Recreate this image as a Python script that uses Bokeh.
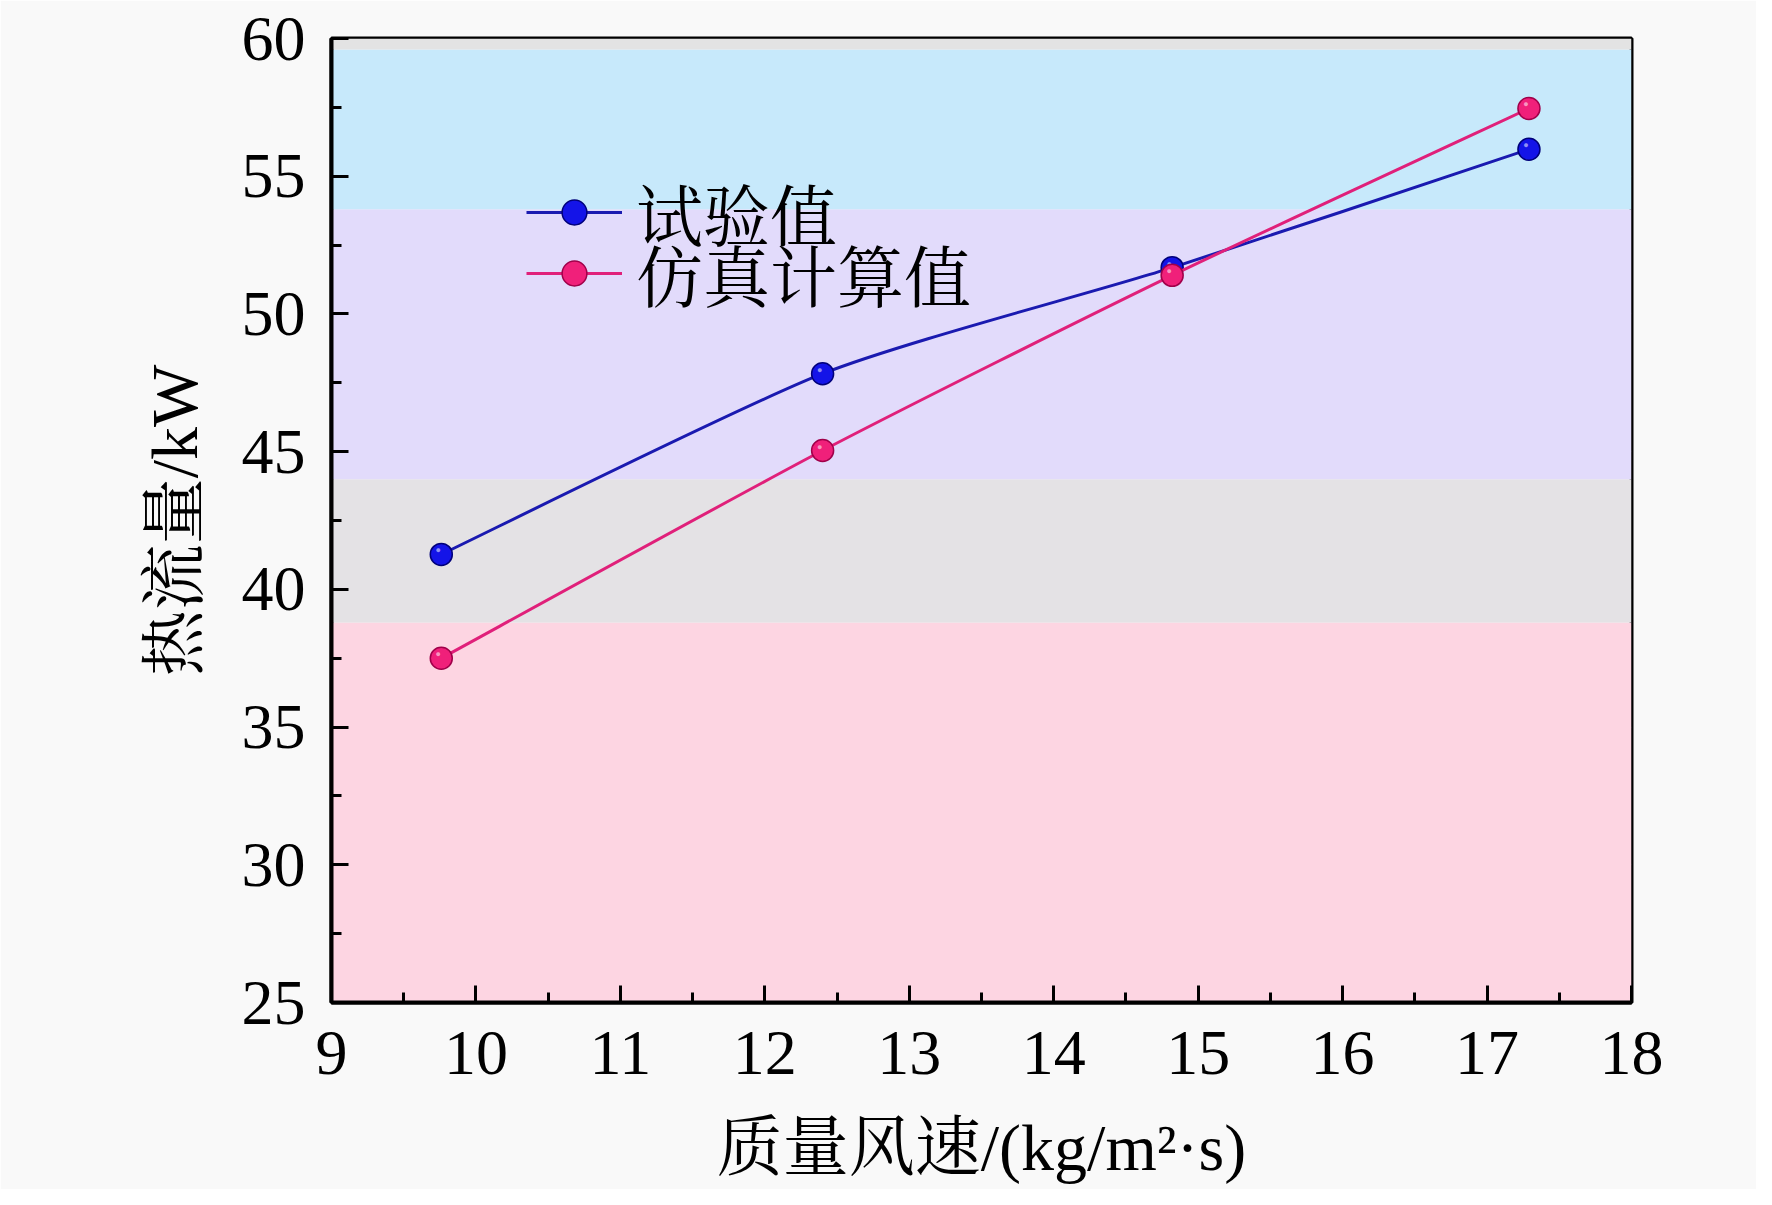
from bokeh.plotting import figure
from bokeh.models import Range1d, Legend, LegendItem, FixedTicker, ColumnDataSource
from bokeh.core.properties import value
from bokeh.embed import file_html
from bokeh.resources import INLINE

# ---- data ----
mass_velocity = [9.76, 12.40, 14.82, 17.29]
test_values = [41.27, 47.83, 51.68, 55.98]
sim_values = [37.50, 45.04, 51.40, 57.46]
series_names = ["试验值", "仿真计算值"]
x_ticks = [9, 10, 11, 12, 13, 14, 15, 16, 17, 18]
y_ticks = [25, 30, 35, 40, 45, 50, 55, 60]
band_edges = [25, 38.8, 44.0, 53.8, 59.6, 60]
band_colors = ["#fdd5e2", "#e4e2e5", "#e2dbfb", "#c7e9fb", "#e3e3e3"]

SERIF = "Liberation Serif, Noto Serif CJK SC, Noto Sans CJK SC"
W, H = 1756, 1189

p = figure(width=W, height=H, output_backend="svg", toolbar_location=None,
           x_range=Range1d(9, 18), y_range=Range1d(25, 60),
           min_border_left=331, min_border_right=125, min_border_top=38, min_border_bottom=187)
p.background_fill_color = "#f9f9f9"
p.border_fill_color = "#f9f9f9"
p.outline_line_color = "black"
p.outline_line_width = 4

# background bands
p.quad(left=[x_ticks[0]] * 5, right=[x_ticks[-1]] * 5,
       bottom=band_edges[:-1], top=band_edges[1:],
       fill_color=band_colors, line_color=None)

# grid
p.xgrid.visible = False
p.ygrid.ticker = FixedTicker(ticks=y_ticks)
p.ygrid.grid_line_color = "#505060"
p.ygrid.grid_line_alpha = 0.45
p.ygrid.grid_line_width = 1.5
p.ygrid.level = "underlay"

def spline(xs, ys, k=9.0):
    n = len(xs)
    X = [xs[0]] + list(xs) + [xs[-1]]
    Y = [ys[0]] + list(ys) + [ys[-1]]
    x0, y0, x1, y1, cx0, cy0, cx1, cy1 = [], [], [], [], [], [], [], []
    for i in range(1, n):
        x0.append(X[i]); y0.append(Y[i]); x1.append(X[i + 1]); y1.append(Y[i + 1])
        cx0.append(X[i] + (X[i + 1] - X[i - 1]) / k); cy0.append(Y[i] + (Y[i + 1] - Y[i - 1]) / k)
        cx1.append(X[i + 1] - (X[i + 2] - X[i]) / k); cy1.append(Y[i + 1] - (Y[i + 2] - Y[i]) / k)
    return dict(x0=x0, y0=y0, x1=x1, y1=y1, cx0=cx0, cy0=cy0, cx1=cx1, cy1=cy1)

colors = [("#1a1ab0", "#1414e8", "#00007a"), ("#e0207a", "#f0207a", "#a0004a")]
legend_y = [742, 681]
for name, ys, (lc, fc, oc), ly in zip(series_names, [test_values, sim_values], colors, legend_y):
    src = ColumnDataSource(spline(mass_velocity, ys))
    p.bezier(x0="x0", y0="y0", x1="x1", y1="y1", cx0="cx0", cy0="cy0", cx1="cx1", cy1="cy1",
             source=src, line_color=lc, line_width=3)
    p.scatter(mass_velocity, ys, size=22, fill_color=fc, line_color=oc, line_width=1.5)
    p.text(mass_velocity, ys, text=["●"] * len(ys), text_color="white", text_alpha=0.55,
           text_font_size="9px", text_align="center", text_baseline="middle",
           x_offset=-3, y_offset=-4)
    lg_line = p.line([0], [0], line_color=lc, line_width=3, visible=False)
    lg_dot = p.scatter([0], [0], size=22, fill_color=fc, line_color=oc, line_width=1.5, visible=False)
    legend = Legend(items=[LegendItem(label=name, renderers=[lg_line, lg_dot])],
                    location=(195, ly), padding=0, margin=0, spacing=0,
                    glyph_width=96, glyph_height=62, label_standoff=14,
                    label_text_font=SERIF, label_text_font_size="67px", label_height=62,
                    label_text_color="black",
                    background_fill_alpha=0, border_line_color=None)
    p.add_layout(legend)

# axes
for ax in (p.xaxis[0], p.yaxis[0]):
    ax.axis_line_width = 4
    ax.axis_line_color = "black"
    ax.major_tick_in = 17
    ax.major_tick_out = 0
    ax.minor_tick_in = 10
    ax.minor_tick_out = 0
    ax.major_tick_line_width = 3
    ax.minor_tick_line_width = 3
    ax.major_label_text_font = SERIF
    ax.major_label_text_font_size = "64px"
    ax.major_label_text_color = "black"
    ax.axis_label_text_font = SERIF
    ax.axis_label_text_font_size = "66px"
    ax.axis_label_text_font_style = "normal"
    ax.axis_label_text_color = "black"

p.xaxis.ticker = FixedTicker(ticks=x_ticks, minor_ticks=[t + 0.5 for t in x_ticks[:-1]])
p.yaxis.ticker = FixedTicker(ticks=y_ticks, minor_ticks=[t + 2.5 for t in y_ticks[:-1]])
p.xaxis.major_label_standoff = 29
p.yaxis.major_label_standoff = 26
p.xaxis.axis_label = "质量风速/(kg/m²·s)"
p.yaxis.axis_label = "热流量/kW"
p.xaxis.axis_label_standoff = 34
p.yaxis.axis_label_standoff = 28

open("out.html", "w").write(file_html(p, INLINE))
